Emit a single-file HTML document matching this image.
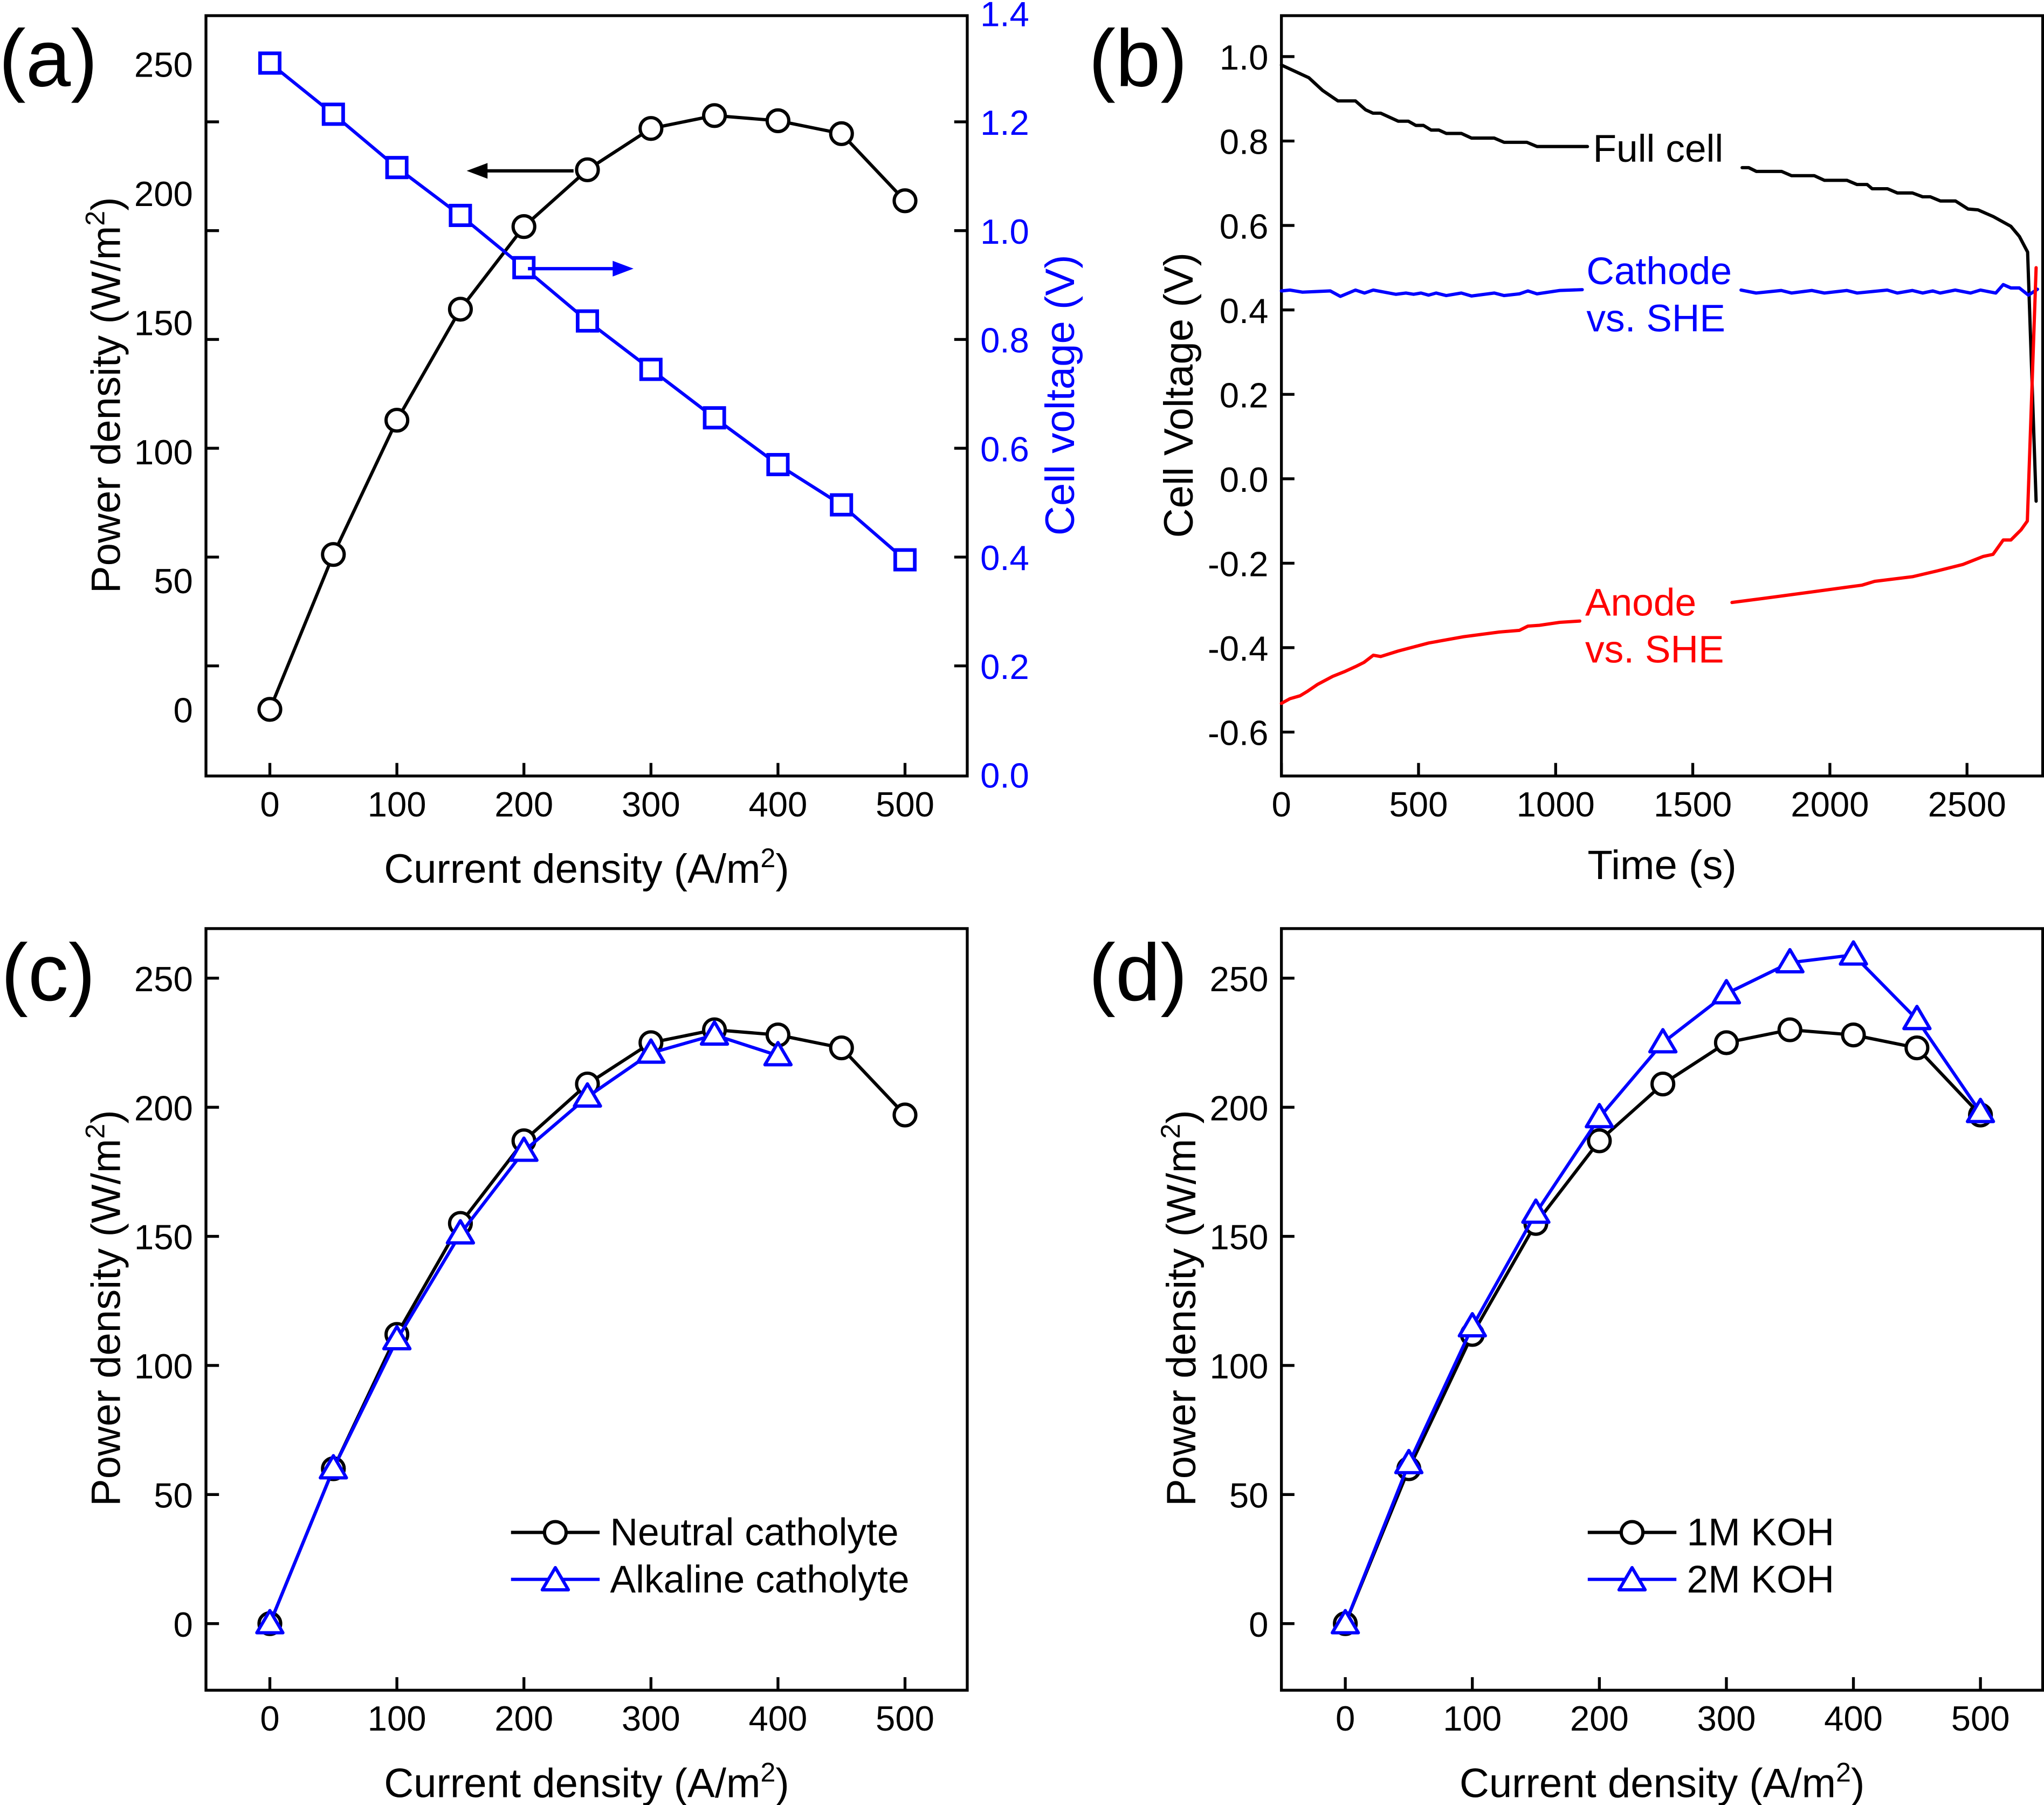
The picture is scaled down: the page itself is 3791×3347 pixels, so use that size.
<!DOCTYPE html>
<html><head><meta charset="utf-8"><style>
html,body{margin:0;padding:0;background:#fff}
svg{display:block}
text{font-family:"Liberation Sans",Arial,sans-serif}
</style></head><body>
<svg id="fig" width="3791" height="3347" viewBox="0 0 1568 1384" preserveAspectRatio="none" xmlns="http://www.w3.org/2000/svg">
<rect width="1568" height="1384" fill="#fff"/>
</svg>
<script>
// ---------- data ----------
const currentDensity = [0,50,100,150,200,250,300,350,400,450,500];
const powerNeutral = [0,60,112,155,187,209,225,230,228,223,197];
const cellVoltage = [1.308,1.214,1.116,1.028,0.932,0.834,0.745,0.656,0.570,0.496,0.395];
const currentAlk = [0,50,100,150,200,250,300,350,400];
const powerAlkaline = [0,60,110,151,183,204,221,228,220];
const power2M = [0,62,115,159,196,225,244,256,259,234,198];

const fullT1 = [0,100,150,206,270,307,334,362,426,463,490,518,546,574,601,656,693,776,812,895,932,1116];
const fullV1 = [0.98,0.95,0.92,0.895,0.895,0.874,0.866,0.866,0.847,0.847,0.837,0.837,0.826,0.826,0.818,0.818,0.807,0.807,0.797,0.797,0.787,0.787];
const fullT2 = [1680,1704,1732,1824,1860,1943,1980,2062,2099,2136,2154,2210,2246,2301,2338,2366,2403,2458,2504,2540,2596,2660,2691,2721,2752];
const fullV2 = [0.737,0.737,0.728,0.728,0.718,0.718,0.707,0.707,0.697,0.697,0.687,0.687,0.677,0.677,0.668,0.668,0.658,0.658,0.639,0.637,0.621,0.598,0.574,0.537,-0.053];
const cathT1 = [0,31,77,178,215,270,303,335,417,454,482,509,537,564,601,656,693,776,812,868,899,932,1015,1097];
const cathV1 = [0.445,0.447,0.442,0.445,0.432,0.447,0.44,0.447,0.437,0.44,0.437,0.44,0.435,0.44,0.434,0.44,0.433,0.44,0.434,0.438,0.445,0.438,0.446,0.448];
const cathT2 = [1676,1731,1823,1860,1934,1980,2062,2099,2209,2246,2301,2338,2375,2402,2457,2513,2549,2605,2632,2660,2691,2724,2757];
const cathV2 = [0.447,0.44,0.446,0.44,0.446,0.44,0.446,0.44,0.447,0.44,0.446,0.44,0.445,0.44,0.447,0.44,0.447,0.44,0.46,0.452,0.452,0.435,0.449];
const anT1 = [0,31,68,96,132,187,233,270,301,335,362,426,537,665,794,868,899,941,1015,1088];
const anV1 = [-0.532,-0.521,-0.514,-0.503,-0.487,-0.468,-0.456,-0.445,-0.435,-0.418,-0.421,-0.408,-0.389,-0.374,-0.363,-0.359,-0.349,-0.347,-0.34,-0.337];
const anT2 = [1643,1750,1934,2117,2163,2301,2393,2485,2559,2595,2632,2660,2697,2720,2752];
const anV2 = [-0.293,-0.284,-0.268,-0.252,-0.243,-0.232,-0.218,-0.203,-0.184,-0.179,-0.145,-0.145,-0.121,-0.1,0.5];

const powerTicks = [0,50,100,150,200,250];
const currentTicks = [0,100,200,300,400,500];
const voltTicks = [0.0,0.2,0.4,0.6,0.8,1.0,1.2,1.4];
const bVoltTicks = [-0.6,-0.4,-0.2,0.0,0.2,0.4,0.6,0.8,1.0];
const timeTicks = [0,500,1000,1500,2000,2500];

// ---------- helpers ----------
const NS="http://www.w3.org/2000/svg";
const svg=document.getElementById('fig');
const TICK=27, TITLE=31.5, LEG=29.5, PANEL=62, ANN=29.5, LW=2.5;
function el(tag,attrs,parent){const e=document.createElementNS(NS,tag);for(const k in attrs)e.setAttribute(k,attrs[k]);(parent||svg).appendChild(e);return e;}
function lin(d0,d1,r0,r1){return v=>r0+(v-d0)*(r1-r0)/(d1-d0);}
function txt(x,y,s,size,opts,parent){opts=opts||{};const t=el('text',{x:x,y:y,'font-size':size,fill:opts.fill||'#000','text-anchor':opts.anchor||'middle'},parent);if(opts.rot)t.setAttribute('transform','rotate(-90 '+x+' '+y+')');t.textContent=s;return t;}
function titleSup(x,y,pre,sup,post,size,rot,parent){const t=el('text',{x:x,y:y,'font-size':size,'text-anchor':'middle'},parent);if(rot)t.setAttribute('transform','rotate(-90 '+x+' '+y+')');
 const a=el('tspan',{},t);a.textContent=pre;const b=el('tspan',{dy:-12,'font-size':size*0.66},t);b.textContent=sup;const c=el('tspan',{dy:12},t);c.textContent=post;return t;}
function poly(xs,ys,sx,sy,color,parent){const pts=xs.map((v,i)=>sx(v).toFixed(2)+','+sy(ys[i]).toFixed(2)).join(' ');return el('polyline',{points:pts,fill:'none',stroke:color,'stroke-width':LW,'stroke-linejoin':'round','stroke-linecap':'round'},parent);}
function circ(x,y,parent){return el('circle',{cx:x,cy:y,r:8.3,fill:'#fff',stroke:'#000','stroke-width':LW},parent);}
function sq(x,y,parent){return el('rect',{x:x-7.5,y:y-7.5,width:15,height:15,fill:'#fff',stroke:'#0000ff','stroke-width':2.8},parent);}
function tri(x,y,parent){return el('polygon',{points:(x)+','+(y-10)+' '+(x-10)+','+(y+7)+' '+(x+10)+','+(y+7),fill:'#fff',stroke:'#0000ff','stroke-width':LW,'stroke-linejoin':'round'},parent);}
function box(x0,y0,x1,y1,parent){return el('rect',{x:x0,y:y0,width:x1-x0,height:y1-y0,fill:'none',stroke:'#000','stroke-width':2.2},parent);}

// ---------- panel (a) ----------
(function(){
 const g=el('g',{});
 
 
 const X0=158,X1=742,Y0=12,Y1=595;
 const sx=lin(-50.3,549,X0,X1), sy=lin(-25.8,268.7,Y1,Y0), sv=lin(0,1.4,594,10);
 box(X0,Y0,X1,Y1,g);
 powerTicks.forEach(v=>{const t=txt(X0-10,sy(v)+10,String(v),TICK,{anchor:'end'},g);});
 voltTicks.forEach(v=>{const y=sv(v);
   if(v>0.05&&v<1.35){el('line',{x1:X1,y1:y,x2:X1-10,y2:y,stroke:'#000','stroke-width':2.2},g);el('line',{x1:X0,y1:y,x2:X0+10,y2:y,stroke:'#000','stroke-width':2.2},g);}
   const t=txt(X1+10,y+10,v.toFixed(1),TICK,{anchor:'start',fill:'#0000ff'},g);});
 currentTicks.forEach(v=>{const x=sx(v);el('line',{x1:x,y1:Y1,x2:x,y2:Y1-10,stroke:'#000','stroke-width':2.2},g);
   const t=txt(x,Y1+31,String(v),TICK,{},g);});
 const pl=poly(currentDensity,powerNeutral,sx,sy,'#000',g);
 currentDensity.forEach((c,i)=>{const m=circ(sx(c),sy(powerNeutral[i]),g);});
 const vl=poly(currentDensity,cellVoltage,sx,sv,'#0000ff',g);
 currentDensity.forEach((c,i)=>{const m=sq(sx(c),sv(cellVoltage[i]),g);});
 const a1=el('g',{},g);
 el('line',{x1:440,y1:131,x2:372,y2:131,stroke:'#000','stroke-width':LW},a1);el('polygon',{points:'358,131 374,125 374,137',fill:'#000'},a1);
 const a2=el('g',{},g);
 el('line',{x1:405,y1:206,x2:472,y2:206,stroke:'#0000ff','stroke-width':LW},a2);el('polygon',{points:'486,206 470,200 470,212',fill:'#0000ff'},a2);
 const pa=txt(37,66,'(a)',PANEL,{},g);
 const yt=titleSup(92,303,'Power density (W/m','2',')',TITLE,true,g);
 const y2=txt(824,303,'Cell voltage (V)',TITLE,{rot:true,fill:'#0000ff'},g);
 const xt=titleSup(450,677,'Current density (A/m','2',')',TITLE,false,g);
})();

// ---------- panel (b) ----------
(function(){
 const g=el('g',{});
 
 
 const X0=983,X1=1567,Y0=12,Y1=595;
 const sx=lin(0,2776,X0,X1), sy=lin(-0.704,1.097,Y1,Y0);
 box(X0,Y0,X1,Y1,g);
 bVoltTicks.forEach(v=>{const y=sy(v);el('line',{x1:X0,y1:y,x2:X0+10,y2:y,stroke:'#000','stroke-width':2.2},g);
   const t=txt(X0-10,y+10,v.toFixed(1),TICK,{anchor:'end'},g);});
 timeTicks.forEach(v=>{const x=sx(v);el('line',{x1:x,y1:Y1,x2:x,y2:Y1-10,stroke:'#000','stroke-width':2.2},g);
   const t=txt(x,Y1+31,String(v),TICK,{},g);});
 [[fullT1,fullV1,'#000','full-cell-line'],[fullT2,fullV2,'#000','full-cell-line'],[cathT1,cathV1,'#0000ff','cathode-line'],[cathT2,cathV2,'#0000ff','cathode-line'],[anT1,anV1,'#ff0000','anode-line'],[anT2,anV2,'#ff0000','anode-line']].forEach(s=>{
   const p=poly(s[0],s[1],sx,sy,s[2],g);});
 const l1=txt(1222,124,'Full cell',ANN,{anchor:'start'},g);
 const l2=txt(1217,218,'Cathode',ANN,{anchor:'start',fill:'#0000ff'},g);
 const l3=txt(1217,254,'vs. SHE',ANN,{anchor:'start',fill:'#0000ff'},g);
 const l4=txt(1216,472,'Anode',ANN,{anchor:'start',fill:'#ff0000'},g);
 const l5=txt(1216,508,'vs. SHE',ANN,{anchor:'start',fill:'#ff0000'},g);
 const pb=txt(873,66,'(b)',PANEL,{},g);
 const yt=txt(915,303,'Cell Voltage (V)',TITLE,{rot:true},g);
 const xt=txt(1275,674,'Time (s)',TITLE,{},g);
})();

// ---------- panels (c),(d) ----------
function lowerPanel(X0,lab,labX,s2,s2x,names,legX,pname){
 const g=el('g',{});
 
 
 const X1=X0+584,Y0=712,Y1=1296;
 const sx=lin(-50.3,549,X0,X1), sy=lin(-25.8,269.2,Y1,Y0);
 box(X0,Y0,X1,Y1,g);
 powerTicks.forEach(v=>{const y=sy(v);el('line',{x1:X0,y1:y,x2:X0+10,y2:y,stroke:'#000','stroke-width':2.2},g);
   const t=txt(X0-10,y+10,String(v),TICK,{anchor:'end'},g);});
 currentTicks.forEach(v=>{const x=sx(v);el('line',{x1:x,y1:Y1,x2:x,y2:Y1-10,stroke:'#000','stroke-width':2.2},g);
   const t=txt(x,Y1+31,String(v),TICK,{},g);});
 const p1=poly(currentDensity,powerNeutral,sx,sy,'#000',g);
 currentDensity.forEach((c,i)=>{const m=circ(sx(c),sy(powerNeutral[i]),g);});
 const p2=poly(s2x,s2,sx,sy,'#0000ff',g);
 s2x.forEach((c,i)=>{const m=tri(sx(c),sy(s2[i]),g);});
 const lg=el('g',{},g);
 const e1=el('g',{},lg);
 el('line',{x1:legX,y1:1175,x2:legX+68,y2:1175,stroke:'#000','stroke-width':LW},e1);circ(legX+34,1175,e1);txt(legX+76,1185,names[0],LEG,{anchor:'start'},e1);
 const e2=el('g',{},lg);
 el('line',{x1:legX,y1:1211,x2:legX+68,y2:1211,stroke:'#0000ff','stroke-width':LW},e2);tri(legX+34,1212,e2);txt(legX+76,1221,names[1],LEG,{anchor:'start'},e2);
 const pl=txt(labX,767,lab,PANEL,{},g);
 const yt=titleSup(X0-66,1003,'Power density (W/m','2',')',TITLE,true,g);
 const xt=titleSup(X0+292,1378,'Current density (A/m','2',')',TITLE,false,g);
}
lowerPanel(158,'(c)',37,powerAlkaline,currentAlk,['Neutral catholyte','Alkaline catholyte'],392,'panel-c');
lowerPanel(983,'(d)',873,power2M,currentDensity,['1M KOH','2M KOH'],1218,'panel-d');
</script>
</body></html>
